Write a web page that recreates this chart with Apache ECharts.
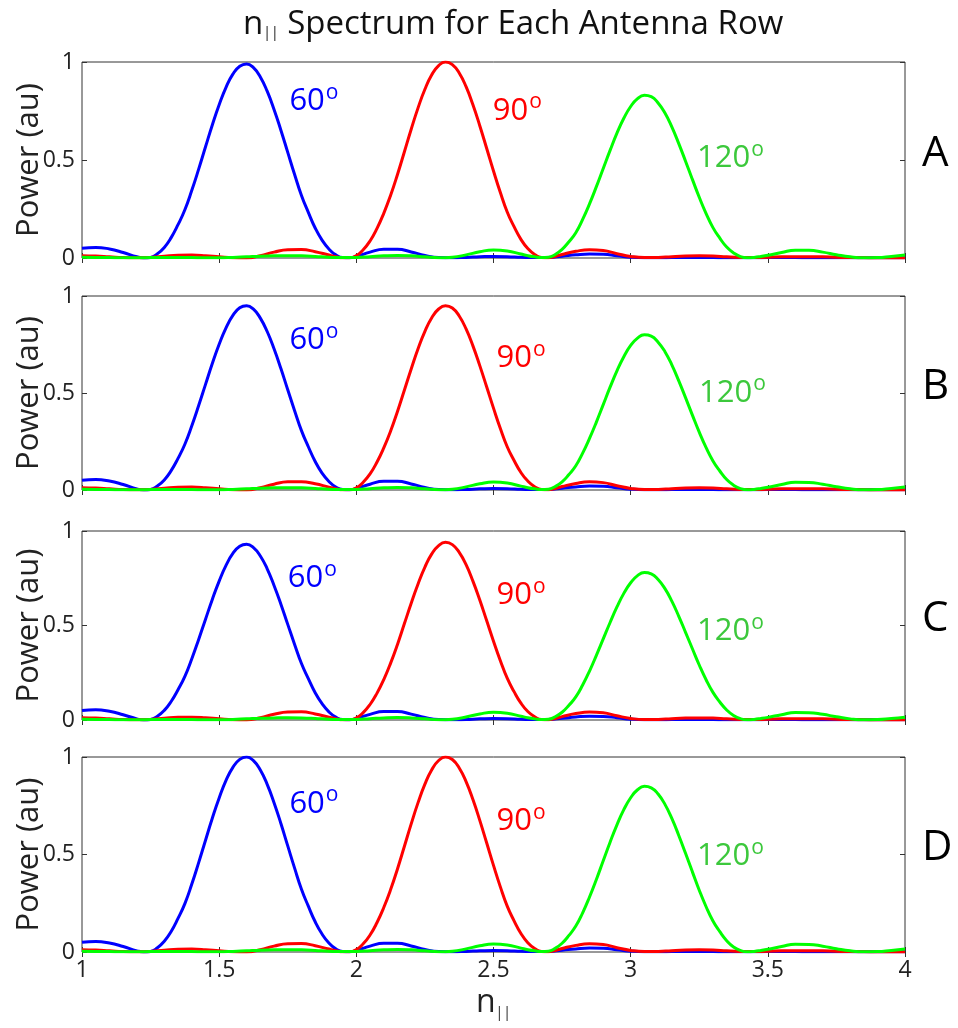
<!DOCTYPE html>
<html><head><meta charset="utf-8">
<script src="https://cdn.jsdelivr.net/npm/echarts@6/dist/echarts.min.js"></script>
<style>html,body{margin:0;padding:0;background:#fff}#c{width:958px;height:1028px}</style>
</head><body><div id="c"></div>
<script>
// ---- DATA ----
// sample positions (n_parallel) for each curve colour (denser across its main lobe)
const xBlue = [1.00,1.05,1.10,1.15,1.200,1.225,1.250,1.275,1.300,1.325,1.350,1.375,1.400,1.425,1.450,1.475,1.500,1.525,1.550,1.575,
  1.600,1.625,1.650,1.675,1.700,1.725,1.750,1.775,1.800,1.825,1.850,1.875,1.900,1.925,1.950,1.975,2.000,
  2.05,2.10,2.15,2.20,2.25,2.30,2.35,2.40,2.45,2.50,2.55,2.60,2.65,2.70,2.75,2.80,2.85,2.90,2.95,3.00,3.05,
  3.10,3.15,3.20,3.25,3.30,3.35,3.40,3.45,3.50,3.55,3.60,3.65,3.70,3.75,3.80,3.85,3.90,3.95,4.00];
const xRed = [1.00,1.05,1.10,1.15,1.20,1.25,1.30,1.35,1.40,1.45,1.50,1.55,1.60,1.65,1.70,1.75,1.80,1.85,1.90,
  1.925,1.950,1.975,2.000,2.025,2.050,2.075,2.100,2.125,2.150,2.175,2.200,2.225,2.250,2.275,2.300,2.325,2.350,2.375,
  2.400,2.425,2.450,2.475,2.500,2.525,2.550,2.575,2.600,2.625,2.650,2.675,2.700,2.725,
  2.75,2.80,2.85,2.90,2.95,3.00,3.05,3.10,3.15,3.20,3.25,3.30,3.35,3.40,3.45,3.50,3.55,3.60,3.65,3.70,3.75,3.80,3.85,3.90,3.95,4.00];
const xGreen = [1.00,1.05,1.10,1.15,1.20,1.25,1.30,1.35,1.40,1.45,1.50,1.55,1.60,1.65,1.70,1.75,1.80,1.85,1.90,1.95,
  2.00,2.05,2.10,2.15,2.20,2.25,2.30,2.35,2.40,2.45,2.50,2.55,2.60,
  2.625,2.650,2.675,2.700,2.725,2.750,2.775,2.800,2.825,2.850,2.875,2.900,2.925,2.950,2.975,3.000,3.025,3.050,3.075,
  3.100,3.125,3.150,3.175,3.200,3.225,3.250,3.275,3.300,3.325,3.350,3.375,3.400,3.425,3.450,3.475,
  3.50,3.55,3.60,3.65,3.70,3.75,3.80,3.85,3.90,3.95,4.00];
const rows = ['A','B','C','D'];
const phaseLabels = ['60','90','120'];

const blueA = [0.050,0.054,0.046,0.028,0.006,0.000,
  0.003,0.022,0.054,0.104,0.170,0.246,0.344,0.452,0.566,0.679,0.782,0.871,0.938,0.978,0.990,0.971,0.924,0.851,0.758,0.652,0.539,0.426,0.319,0.233,0.153,0.091,0.046,0.016,0.002,
  0.001,0.008,
  0.030,0.045,0.045,0.031,0.013,0.002,0.001,0.003,0.006,0.008,0.007,0.004,0.002,0.003,0.009,0.016,0.020,0.019,0.012,0.004,0.001,
  0.001,0.002,0.003,0.003,0.002,0.001,0.001,0.001,0.002,0.002,0.002,0.001,0.001,0.001,0.001,0.001,0.001,0.001,0.001];
const blueB = [0.050,0.054,0.046,0.028,0.006,0.000,
  0.003,0.021,0.052,0.100,0.163,0.236,0.330,0.434,0.543,0.652,0.751,0.836,0.900,0.939,0.950,0.932,0.886,0.817,0.728,0.626,0.517,0.409,0.306,0.223,0.147,0.087,0.044,0.015,0.002,
  0.001,0.008,
  0.030,0.045,0.045,0.031,0.013,0.002,0.001,0.003,0.006,0.008,0.007,0.004,0.002,0.003,0.009,0.016,0.020,0.019,0.012,0.004,0.001,
  0.001,0.002,0.003,0.003,0.002,0.001,0.001,0.001,0.002,0.002,0.002,0.001,0.001,0.001,0.001,0.001,0.001,0.001,0.001];
const blueC = [0.050,0.054,0.046,0.028,0.006,0.000,
  0.003,0.020,0.051,0.098,0.160,0.231,0.323,0.425,0.532,0.638,0.735,0.818,0.881,0.919,0.930,0.912,0.868,0.800,0.712,0.613,0.506,0.400,0.299,0.219,0.144,0.086,0.043,0.015,0.002,
  0.001,0.008,
  0.030,0.045,0.045,0.031,0.013,0.002,0.001,0.003,0.006,0.008,0.007,0.004,0.002,0.003,0.009,0.016,0.020,0.019,0.012,0.004,0.001,
  0.001,0.002,0.003,0.003,0.002,0.001,0.001,0.001,0.002,0.002,0.002,0.001,0.001,0.001,0.001,0.001,0.001,0.001,0.001];
const blueD = [0.050,0.054,0.046,0.028,0.006,0.000,
  0.003,0.022,0.055,0.105,0.172,0.248,0.347,0.457,0.572,0.686,0.790,0.880,0.947,0.988,1.000,0.981,0.933,0.860,0.766,0.659,0.544,0.430,0.322,0.235,0.155,0.092,0.046,0.016,0.002,
  0.001,0.008,
  0.030,0.045,0.045,0.031,0.013,0.002,0.001,0.003,0.006,0.008,0.007,0.004,0.002,0.003,0.009,0.016,0.020,0.019,0.012,0.004,0.001,
  0.001,0.002,0.003,0.003,0.002,0.001,0.001,0.001,0.002,0.002,0.002,0.001,0.001,0.001,0.001,0.001,0.001,0.001,0.001];

const redA = [0.012,0.010,0.006,0.002,0.001,0.003,0.009,0.014,0.015,0.012,0.006,0.001,0.000,0.012,0.030,0.042,0.043,0.032,0.015,
  0.007,0.001,0.001,
  0.012,0.042,0.087,0.150,0.228,0.320,0.426,0.541,0.657,0.766,0.861,0.935,0.982,1.000,0.987,0.944,0.874,0.782,0.675,0.560,0.444,0.334,0.235,0.160,0.095,0.048,0.018,0.002,
  0.001,0.008,
  0.018,0.034,0.042,0.038,0.022,0.008,0.002,0.003,0.007,0.010,0.011,0.010,0.006,0.003,0.002,0.004,0.006,0.007,0.007,0.006,0.004,0.002,0.001,0.000,0.000,0.000];
const redB = [0.012,0.010,0.006,0.002,0.001,0.003,0.009,0.014,0.015,0.012,0.006,0.001,0.000,0.012,0.030,0.042,0.043,0.032,0.015,
  0.007,0.001,0.001,
  0.011,0.040,0.083,0.143,0.217,0.304,0.405,0.514,0.624,0.728,0.818,0.888,0.933,0.950,0.938,0.897,0.830,0.743,0.641,0.532,0.422,0.317,0.223,0.152,0.090,0.046,0.017,0.002,
  0.001,0.008,
  0.018,0.034,0.042,0.038,0.022,0.008,0.002,0.003,0.007,0.010,0.011,0.010,0.006,0.003,0.002,0.004,0.006,0.007,0.007,0.006,0.004,0.002,0.001,0.000,0.000,0.000];
const redC = [0.012,0.010,0.006,0.002,0.001,0.003,0.009,0.014,0.015,0.012,0.006,0.001,0.000,0.012,0.030,0.042,0.043,0.032,0.015,
  0.007,0.001,0.001,
  0.011,0.039,0.082,0.141,0.214,0.301,0.400,0.509,0.618,0.720,0.809,0.879,0.923,0.940,0.928,0.887,0.822,0.735,0.635,0.526,0.417,0.314,0.221,0.150,0.089,0.045,0.017,0.002,
  0.001,0.008,
  0.018,0.034,0.042,0.038,0.022,0.008,0.002,0.003,0.007,0.010,0.011,0.010,0.006,0.003,0.002,0.004,0.006,0.007,0.007,0.006,0.004,0.002,0.001,0.000,0.000,0.000];
const redD = [0.012,0.010,0.006,0.002,0.001,0.003,0.009,0.014,0.015,0.012,0.006,0.001,0.000,0.012,0.030,0.042,0.043,0.032,0.015,
  0.007,0.001,0.001,
  0.012,0.042,0.087,0.150,0.228,0.320,0.426,0.541,0.657,0.766,0.861,0.935,0.982,1.000,0.987,0.944,0.874,0.782,0.675,0.560,0.444,0.334,0.235,0.160,0.095,0.048,0.018,0.002,
  0.001,0.008,
  0.018,0.034,0.042,0.038,0.022,0.008,0.002,0.003,0.007,0.010,0.011,0.010,0.006,0.003,0.002,0.004,0.006,0.007,0.007,0.006,0.004,0.002,0.001,0.000,0.000,0.000];

const greenA = [0.004,0.003,0.002,0.001,0.001,0.002,0.003,0.003,0.002,0.001,0.001,0.003,0.006,0.009,0.011,0.012,0.011,0.008,0.004,0.002,
  0.003,0.007,0.011,0.013,0.011,0.006,0.001,0.004,0.016,0.032,0.041,0.036,0.020,
  0.012,0.006,0.002,0.004,
  0.018,0.044,0.083,0.129,0.197,0.276,0.364,0.457,0.549,0.637,0.713,0.773,0.813,0.830,0.823,0.791,0.740,0.669,0.585,0.494,0.401,0.310,0.227,0.155,0.101,0.056,0.026,0.007,
  0.001,0.003,0.008,
  0.014,0.028,0.040,0.039,0.030,0.017,0.006,0.001,0.002,0.008,0.015];
const greenB = [0.004,0.003,0.002,0.001,0.001,0.002,0.003,0.003,0.002,0.001,0.001,0.003,0.006,0.009,0.011,0.012,0.011,0.008,0.004,0.002,
  0.003,0.007,0.011,0.013,0.011,0.006,0.001,0.004,0.016,0.032,0.041,0.036,0.020,
  0.012,0.006,0.002,0.004,
  0.018,0.042,0.080,0.125,0.190,0.266,0.350,0.440,0.530,0.614,0.687,0.745,0.783,0.800,0.793,0.762,0.713,0.645,0.564,0.476,0.386,0.298,0.218,0.150,0.098,0.054,0.025,0.007,
  0.001,0.003,0.008,
  0.014,0.028,0.040,0.039,0.030,0.017,0.006,0.001,0.002,0.008,0.015];
const greenC = [0.004,0.003,0.002,0.001,0.001,0.002,0.003,0.003,0.002,0.001,0.001,0.003,0.006,0.009,0.011,0.012,0.011,0.008,0.004,0.002,
  0.003,0.007,0.011,0.013,0.011,0.006,0.001,0.004,0.016,0.032,0.041,0.036,0.020,
  0.012,0.006,0.002,0.004,
  0.017,0.041,0.078,0.122,0.185,0.259,0.342,0.429,0.516,0.598,0.670,0.726,0.764,0.780,0.773,0.743,0.695,0.629,0.550,0.464,0.377,0.291,0.213,0.146,0.095,0.053,0.024,0.007,
  0.001,0.003,0.008,
  0.014,0.028,0.040,0.039,0.030,0.017,0.006,0.001,0.002,0.008,0.015];
const greenD = [0.004,0.003,0.002,0.001,0.001,0.002,0.003,0.003,0.002,0.001,0.001,0.003,0.006,0.009,0.011,0.012,0.011,0.008,0.004,0.002,
  0.003,0.007,0.011,0.013,0.011,0.006,0.001,0.004,0.016,0.032,0.041,0.036,0.020,
  0.012,0.006,0.002,0.004,
  0.019,0.045,0.085,0.133,0.201,0.282,0.372,0.468,0.563,0.652,0.730,0.791,0.832,0.850,0.842,0.810,0.757,0.685,0.599,0.506,0.411,0.317,0.232,0.159,0.104,0.058,0.026,0.008,
  0.001,0.003,0.008,
  0.014,0.028,0.040,0.039,0.030,0.017,0.006,0.001,0.002,0.008,0.015];

const xByColour = [xBlue, xRed, xGreen];
const seriesByRow = [[blueA,redA,greenA],[blueB,redB,greenB],[blueC,redC,greenC],[blueD,redD,greenD]];

// ---- LAYOUT / STYLE ----
const FONT = '"Open Sans", "Noto Sans", sans-serif';
const gridTops = [62, 296, 531, 757];
const gridHeights = [196, 194, 189, 195];
const lineColors = ['#0000ff', '#ff0000', '#00ff00'];
const labelColors = ['#0000ff', '#ff0000', '#3cc83c'];
// annotation anchor points (data coords) for each row: [60,90,120]
const labelAnchors = [
  [[1.756, 0.80], [2.497, 0.75], [3.242, 0.51]],
  [[1.756, 0.77], [2.511, 0.68], [3.249, 0.50]],
  [[1.750, 0.75], [2.511, 0.66], [3.242, 0.47]],
  [[1.756, 0.76], [2.511, 0.67], [3.242, 0.49]]
];

const grids = [], xAxes = [], yAxes = [], series = [], graphics = [];
const tickStyle = { color: '#333', width: 1 };
rows.forEach((r, i) => {
  grids.push({ left: 82, width: 823, top: gridTops[i], height: gridHeights[i], show: true,
    borderColor: '#333', borderWidth: 1, backgroundColor: 'transparent' });
  const last = i === rows.length - 1;
  xAxes.push({ gridIndex: i, type: 'value', min: 1, max: 4, interval: 0.5, position: 'bottom',
    axisLine: { show: false }, splitLine: { show: false },
    axisTick: { inside: true, length: 5, lineStyle: tickStyle },
    axisLabel: { show: last, fontSize: 23, color: '#222', fontFamily: FONT, margin: 7 },
    name: last ? '{n|n}{s|||}' : '', nameLocation: 'middle', nameGap: 34, nameMoveOverlap: false,
    nameTextStyle: { rich: { n: { fontSize: 32, fontFamily: FONT, color: '#222' },
      s: { fontSize: 14, fontFamily: FONT, color: '#222', padding: [20, 0, 0, 0] } } } });
  xAxes.push({ gridIndex: i, type: 'value', min: 1, max: 4, interval: 0.5, position: 'top',
    axisLine: { show: false }, splitLine: { show: false },
    axisTick: { inside: true, length: 5, lineStyle: tickStyle }, axisLabel: { show: false } });
  yAxes.push({ gridIndex: i, type: 'value', min: 0, max: 1, interval: 0.5, position: 'left',
    axisLine: { show: false }, splitLine: { show: false },
    axisTick: { inside: true, length: 5, lineStyle: tickStyle },
    axisLabel: { fontSize: 23, color: '#222', fontFamily: FONT, margin: 7 },
    name: 'Power (au)', nameLocation: 'middle', nameRotate: 90, nameGap: 37, nameMoveOverlap: false,
    nameTextStyle: { fontSize: 31, color: '#222', fontFamily: FONT } });
  yAxes.push({ gridIndex: i, type: 'value', min: 0, max: 1, interval: 0.5, position: 'right',
    axisLine: { show: false }, splitLine: { show: false },
    axisTick: { inside: true, length: 5, lineStyle: tickStyle }, axisLabel: { show: false } });

  seriesByRow[i].forEach((vals, k) => {
    const xs = xByColour[k];
    series.push({
      type: 'line', xAxisIndex: 2 * i, yAxisIndex: 2 * i,
      data: xs.map((x, j) => [x, vals[j]]),
      smooth: 0.5, showSymbol: false, symbol: 'none', silent: true,
      lineStyle: { color: lineColors[k], width: 3 }, clip: true, z: 2 + k,
      markPoint: { silent: true, symbol: 'circle', symbolSize: 0, animation: false,
        data: [{ coord: labelAnchors[i][k] }],
        label: { show: true, position: 'right', distance: 0,
          formatter: '{a|' + phaseLabels[k] + '}{b|o}',
          rich: { a: { fontSize: 31, color: labelColors[k], fontFamily: FONT, verticalAlign: 'middle' },
                  b: { fontSize: 21, color: labelColors[k], fontFamily: FONT, verticalAlign: 'top', padding: [0, 0, 17, 1] } } } }
    });
  });

  graphics.push({ type: 'text', left: 922, top: gridTops[i] + gridHeights[i] / 2 - 27,
    style: { text: r, fontSize: 42, fill: '#000', fontFamily: FONT } });
});

const chart = echarts.init(document.getElementById('c'), null, { renderer: 'canvas' });
chart.setOption({
  animation: false,
  backgroundColor: '#fff',
  title: { text: '{n|n}{s|||}{t| Spectrum for Each Antenna Row}', left: 238, top: 3,
    textStyle: { fontWeight: 'normal', rich: { n: { fontSize: 33, fontFamily: FONT, color: '#111', fontWeight: 'normal' },
      s: { fontSize: 14, fontFamily: FONT, color: '#111', padding: [18, 0, 0, 0], fontWeight: 'normal' },
      t: { fontSize: 33, fontFamily: FONT, color: '#111', fontWeight: 'normal' } } } },
  grid: grids, xAxis: xAxes, yAxis: yAxes, series: series, graphic: graphics
});
</script></body></html>
